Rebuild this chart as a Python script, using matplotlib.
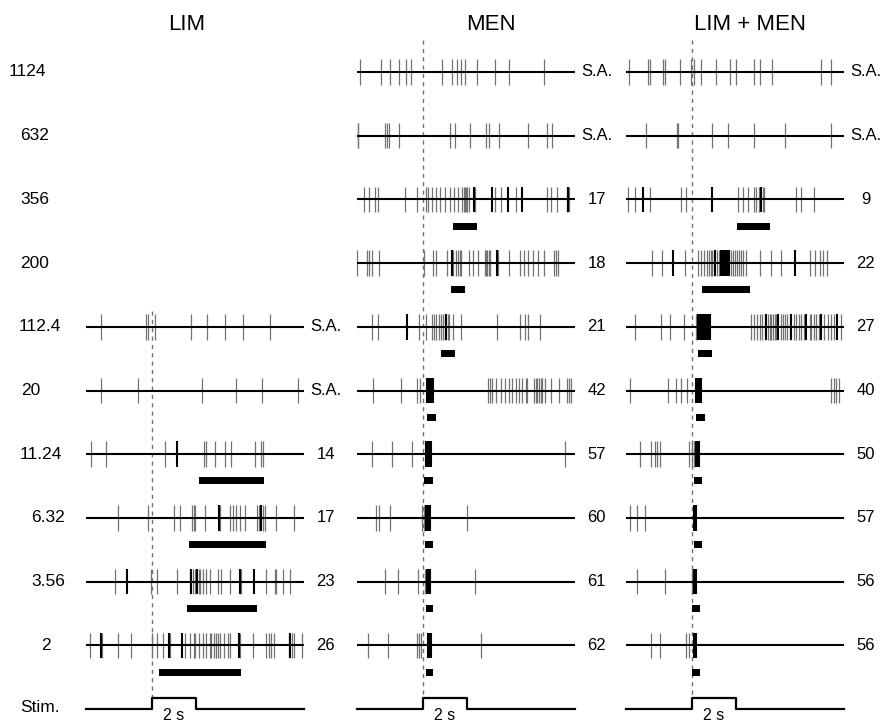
import numpy as np
import matplotlib.pyplot as plt

# odorant concentrations, one row each (top to bottom)
conc = ["1124", "632", "356", "200", "112.4", "20", "11.24", "6.32", "3.56", "2"]
panel_names = ["LIM", "MEN", "LIM + MEN"]

# spike times in seconds; None = row not recorded
lim_spikes = [
    None, None, None, None,
    [0.67, 2.71, 2.80, 3.12, 4.79, 5.52, 6.30, 7.14, 8.35],
    [0.70, 2.36, 5.29, 6.83, 8.02, 9.64],
    [0.24, 0.92, 3.61, 5.36, 5.44, 5.85, 6.33, 6.58, 7.67, 7.97, 8.05],
    [1.45, 2.82, 3.98, 4.26, 4.82, 4.89, 4.97, 5.39, 6.11, 6.53, 6.70, 6.83, 6.98,
     7.21, 7.76, 7.85, 8.05, 8.12, 8.65, 9.44],
    [1.33, 2.94, 3.23, 4.15, 4.71, 4.86, 4.97, 5.12, 5.20, 5.32, 5.44, 5.62, 6.00,
     6.15, 6.53, 7.06, 8.20, 8.58, 8.65, 8.95, 9.26],
    [0.17, 0.73, 1.45, 2.03, 3.02, 3.24, 3.50, 3.83, 4.48, 4.71, 4.89, 4.97, 5.12,
     5.32, 5.47, 5.62, 5.70, 5.82, 5.92, 6.00, 6.11, 6.26, 6.45, 6.56, 7.00, 7.61,
     8.20, 8.30, 8.42, 8.55, 9.21, 9.36, 9.44, 9.82],
]
lim_bold = [
    None, None, None, None, [], [],
    [4.14],
    [6.05, 7.94],
    [1.86, 4.79, 5.05, 6.98, 7.62],
    [0.70, 3.76, 4.36, 6.95, 9.29],
]
lim_bars = [None, None, None, None, None, None,
            (5.14, 8.09), (4.68, 8.20), (4.60, 7.79), (3.30, 7.06)]
lim_labels = ["", "", "", "", "S.A.", "S.A.", "14", "17", "23", "26"]

men_spikes = [
    [0.12, 1.08, 1.50, 1.91, 2.24, 2.47, 3.85, 4.33, 4.53, 4.71, 4.89, 5.47, 6.26,
     6.91, 8.50],
    [0.03, 0.06, 1.27, 1.38, 1.45, 1.91, 4.21, 4.44, 5.12, 5.88, 6.00, 6.45, 7.77,
     8.65, 8.85],
    [0.32, 0.55, 0.82, 0.97, 2.18, 2.74, 3.12, 3.24, 3.39, 3.61, 3.77, 3.98, 4.21,
     4.41, 4.61, 4.79, 4.86, 4.91, 4.97, 5.02, 5.09, 5.35, 6.26, 6.53, 7.21, 8.65,
     8.80, 9.11, 9.56, 9.64],
    [0.00, 0.47, 0.55, 0.67, 1.00, 3.05, 3.45, 3.58, 4.11, 4.36, 4.52, 4.61, 4.67,
     4.74, 5.09, 5.27, 5.52, 5.82, 5.88, 5.92, 6.00, 6.06, 6.42, 6.91, 7.39, 7.59,
     7.77, 8.00, 8.24, 8.50, 8.95, 9.06, 9.15],
    [0.70, 0.97, 2.82, 3.12, 3.42, 3.50, 3.58, 3.73, 3.83, 3.91, 4.00, 4.12, 4.18,
     4.36, 4.71, 6.35, 7.39, 7.62, 7.79, 8.32],
    [0.73, 1.98, 2.74, 2.85, 5.97, 6.03, 6.12, 6.33, 6.53, 6.73, 6.91, 7.06, 7.21,
     7.36, 7.52, 7.67, 7.74, 8.05, 8.12, 8.20, 8.27, 8.35, 8.42, 8.55, 8.80, 9.18,
     9.56, 9.64, 9.71],
    [0.67, 1.61, 2.48, 9.44],
    [0.85, 1.00, 1.48, 2.97, 3.05, 4.98],
    [1.26, 1.88, 2.79, 3.09, 5.36],
    [0.52, 1.42, 2.74, 2.82, 2.89, 5.62],
]
men_bold = [
    [], [],
    [5.32, 6.15, 6.86, 7.52, 9.61],
    [4.30, 6.38],
    [2.26, 4.06],
    [3.20, 3.24, 3.28, 3.32, 3.36, 3.40, 3.44],
    [3.12, 3.16, 3.20, 3.24, 3.28, 3.32, 3.36],
    [3.12, 3.16, 3.20, 3.24, 3.28, 3.32],
    [3.20, 3.24, 3.28, 3.32],
    [3.23, 3.27, 3.31, 3.35],
]
men_bars = [None, None, (4.36, 5.47), (4.26, 4.91), (3.80, 4.45), (3.17, 3.58),
            (3.06, 3.47), (3.08, 3.45), (3.12, 3.47), (3.12, 3.47)]
men_labels = ["S.A.", "S.A.", "17", "18", "21", "42", "57", "60", "61", "62"]

mix_spikes = [
    [0.12, 1.00, 1.11, 1.68, 1.76, 2.44, 2.97, 3.08, 3.39, 4.11, 4.71, 5.02, 5.82,
     6.11, 6.65, 8.85, 9.33],
    [0.89, 2.32, 2.36, 3.92, 4.64, 5.80, 7.24, 9.33],
    [0.09, 0.39, 1.08, 2.48, 2.74, 5.09, 5.32, 5.55, 5.80, 5.92, 6.03, 6.23, 6.27,
     7.74, 7.97, 8.55],
    [1.18, 1.64, 2.67, 3.27, 3.42, 3.55, 3.70, 3.77, 3.85, 3.91, 3.98, 4.14, 4.21,
     4.76, 4.86, 4.94, 5.03, 5.12, 5.21, 5.33, 5.47, 6.08, 6.61, 7.06, 8.35, 8.58,
     8.80, 8.95, 9.14],
    [0.39, 1.61, 2.02, 2.64, 3.17, 5.70, 5.82, 5.97, 6.08, 6.20, 6.30, 6.45, 6.53,
     6.61, 6.68, 6.76, 6.83, 7.06, 7.14, 7.21, 7.33, 7.44, 7.62, 7.74, 7.85, 7.97,
     8.09, 8.35, 8.42, 8.55, 8.65, 8.76, 9.00, 9.18, 9.30, 9.45, 9.79],
    [0.17, 1.91, 2.26, 2.48, 2.79, 9.33, 9.45, 9.56, 9.67],
    [0.65, 1.12, 1.33, 1.41, 1.56, 2.85, 3.00, 3.08],
    [0.17, 0.52, 0.85],
    [0.52, 1.79, 3.02],
    [1.15, 1.53, 2.74, 2.85],
]
mix_bold = [
    [],
    [],
    [0.77, 3.92, 6.15],
    [2.14, 4.06, 4.30, 4.41, 4.48, 4.56, 4.61, 4.67, 7.67],
    [3.28, 3.32, 3.36, 3.40, 3.44, 3.48, 3.52, 3.56, 3.60, 3.64, 3.68, 3.72, 3.76,
     3.80, 6.38, 6.91, 7.52, 8.20, 8.88, 9.61],
    [3.20, 3.24, 3.28, 3.32, 3.36, 3.40],
    [3.17, 3.21, 3.25, 3.29, 3.33],
    [3.10, 3.14, 3.18],
    [3.10, 3.14, 3.18],
    [3.10, 3.14, 3.18],
]
mix_bars = [None, None, (5.06, 6.53), (3.45, 5.62), (3.27, 3.92), (3.20, 3.61),
            (3.09, 3.45), (3.09, 3.45), (3.02, 3.38), (3.02, 3.38)]
mix_labels = ["S.A.", "S.A.", "9", "22", "27", "40", "50", "57", "56", "56"]

stim_onset = 3.0
stim_duration = 2.0
trace_end = 9.9

W, H = 887, 725
fig = plt.figure(figsize=(W / 100, H / 100), dpi=100)

font = ["Liberation Sans", "DejaVu Sans"]
narrow = ["Liberation Sans Narrow", "DejaVu Sans Condensed", "Liberation Sans"]

panels = [
    (lim_spikes, lim_bold, lim_bars, lim_labels, 86),
    (men_spikes, men_bold, men_bars, men_labels, 357),
    (mix_spikes, mix_bold, mix_bars, mix_labels, 626),
]
px_per_s = 22
row_px = 63.7
top_px = 72

for p, (spikes, bold, bars, labels, x0) in enumerate(panels):
    left = (x0 - 0.5 * px_per_s) / W
    width = 11 * px_per_s / W
    ax = fig.add_axes([left, 0, width, (H - (top_px - 0.5 * row_px)) / H])
    ax.set_xlim(-0.5, 10.5)
    ax.set_ylim((H - top_px) / row_px, -0.5)
    ax.axis("off")

    first = None
    for i in range(len(conc)):
        if spikes[i] is None:
            continue
        if first is None:
            first = i
        ax.hlines(i, 0, trace_end, color="black", lw=1.5, zorder=3)
        ax.vlines(spikes[i], i - 0.2, i + 0.2, color="0.45", lw=0.9, zorder=2)
        ax.vlines(bold[i], i - 0.2, i + 0.2, color="black", lw=1.5, zorder=4)
        if bars[i] is not None:
            start, end = bars[i]
            ax.barh(i + 0.42, end - start, left=start, height=0.11,
                    color="black", zorder=3)
        ax.text(10.9, i, labels[i], ha="center", va="center", fontsize=12,
                family=font)

    # stimulus step
    stim_t = [0, stim_onset, stim_onset, stim_onset + stim_duration,
              stim_onset + stim_duration, trace_end]
    stim_y = [0, 0, 1, 1, 0, 0]
    ax.plot(stim_t, 10 - 0.17 * np.array(stim_y), color="black", lw=1.6)
    ax.text(stim_onset + stim_duration / 2, 10.1, "2 s", ha="center",
            va="center", fontsize=11.5, family=font)

    dash_top = first - 0.25 if first > 0 else -0.5
    ax.vlines(stim_onset, dash_top, 10 - 0.17, color="0.45", lw=1.0,
              linestyles=(0, (3, 3)), zorder=1)

    title_x = [187, 491, 750][p]
    fig.text(title_x / W, 1 - 24 / H, panel_names[p], ha="center", va="center",
             fontsize=16, family=narrow)

# concentration labels at left
label_x = [27, 35, 35, 35, 40, 31, 41, 48, 48, 46]
for i, c in enumerate(conc):
    fig.text(label_x[i] / W, 1 - (top_px + i * row_px) / H, c, ha="center",
             va="center", fontsize=12.5, family=font)
fig.text(40 / W, 1 - 708 / H, "Stim.", ha="center", va="center", fontsize=12.5,
         family=font)

fig.savefig("out.png", dpi=100)
